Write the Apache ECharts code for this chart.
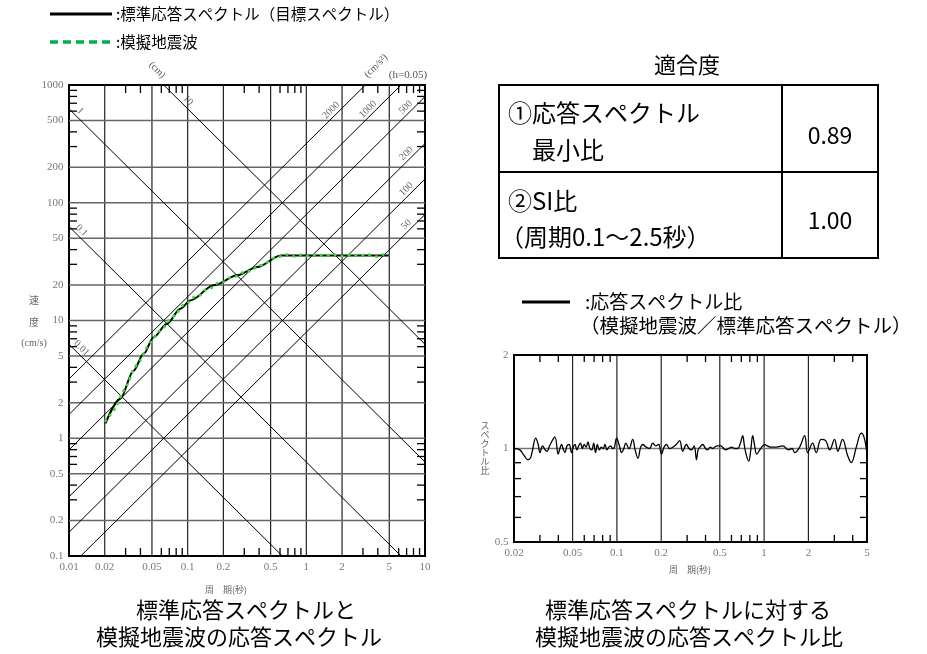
<!DOCTYPE html>
<html>
<head>
<meta charset="utf-8">
<script src="https://cdn.jsdelivr.net/npm/echarts@6/dist/echarts.min.js"></script>
<style>
html, body { margin: 0; padding: 0; background: #fff; }
#chart { width: 927px; height: 654px; }
</style>
</head>
<body>
<div id="chart"></div>
<script>
// target (standard) response spectrum, velocity cm/s vs period s
const targetPeriods = [0.0203, 0.027, 0.035, 0.0425, 0.0516, 0.067, 0.0867, 0.1054, 0.166, 0.262, 0.386, 0.608, 5.0]
const targetVel = [1.34, 2.16, 3.75, 5.21, 7.21, 9.39, 12.6, 14.8, 19.9, 24.2, 28.4, 35.7, 35.7]

// simulated wave spectrum (green)
const simPeriods = [0.02, 0.022, 0.025, 0.028, 0.031, 0.035, 0.04, 0.045, 0.05, 0.056, 0.063, 0.07, 0.08, 0.09, 0.1, 0.11, 0.125, 0.14, 0.16, 0.18, 0.2, 0.23, 0.26, 0.3, 0.34, 0.39, 0.45, 0.52, 0.6, 0.7, 0.8, 0.9, 1.0, 1.2, 1.4, 1.7, 2.0, 2.4, 2.8, 3.3, 3.9, 4.5, 5.0]
const simVel = [1.38, 1.55, 1.86, 2.40, 2.85, 3.85, 4.60, 5.85, 6.75, 7.95, 8.70, 10.1, 11.3, 13.3, 14.0, 15.6, 16.2, 18.2, 19.0, 20.9, 21.2, 23.3, 23.8, 26.0, 26.4, 28.9, 30.3, 33.5, 35.0, 36.4, 35.0, 36.2, 35.3, 36.0, 35.4, 36.3, 35.2, 36.1, 35.5, 36.3, 35.0, 36.4, 35.3]

// spectrum ratio (simulated / standard)
const ratioPeriods = [0.0200, 0.0219, 0.0234, 0.0249, 0.0258, 0.0265, 0.0281, 0.0292, 0.0300, 0.0313, 0.0325, 0.0336, 0.0346, 0.0356, 0.0379, 0.0399, 0.0410, 0.0421, 0.0433, 0.0444, 0.0458, 0.0474, 0.0492, 0.0505, 0.0519, 0.0535, 0.0550, 0.0566, 0.0582, 0.0600, 0.0618, 0.0636, 0.0655, 0.0675, 0.0695, 0.0716, 0.0737, 0.0760, 0.0783, 0.0806, 0.0830, 0.0855, 0.0880, 0.0907, 0.0934, 0.0962, 0.0995, 0.1040, 0.1076, 0.1115, 0.1150, 0.1210, 0.1280, 0.1330, 0.1390, 0.1450, 0.1500, 0.1580, 0.1670, 0.1750, 0.1840, 0.1920, 0.2010, 0.2090, 0.2170, 0.2280, 0.2400, 0.2530, 0.2670, 0.2800, 0.2970, 0.3090, 0.3210, 0.3350, 0.3470, 0.3560, 0.3660, 0.3830, 0.4000, 0.4140, 0.4300, 0.4480, 0.4770, 0.5070, 0.5480, 0.5750, 0.6020, 0.6300, 0.6620, 0.6900, 0.7150, 0.7330, 0.7500, 0.7860, 0.8100, 0.8360, 0.8600, 0.8910, 0.9480, 1.0090, 1.0500, 1.1090, 1.2170, 1.3370, 1.4680, 1.5500, 1.6120, 1.7430, 1.8850, 1.9770, 2.1360, 2.2600, 2.4400, 2.6200, 2.7900, 3.0100, 3.1700, 3.4100, 3.6900, 3.9100, 4.2300, 4.5700, 4.7900, 5.0000]
const ratioValues = [1.00, 0.99, 0.95, 0.92, 0.93, 0.97, 1.08, 1.03, 0.97, 1.02, 0.99, 0.98, 1.01, 1.04, 1.09, 0.96, 1.00, 1.03, 0.99, 0.97, 1.02, 1.03, 0.97, 1.01, 1.03, 0.99, 1.02, 1.04, 1.00, 1.03, 1.01, 1.05, 1.00, 0.99, 1.04, 0.97, 1.03, 0.99, 1.01, 1.00, 1.03, 0.99, 1.01, 1.02, 1.00, 1.01, 1.08, 1.02, 0.97, 1.00, 1.04, 1.00, 1.07, 0.99, 0.93, 1.01, 1.03, 1.01, 1.00, 1.04, 1.02, 1.03, 0.96, 1.01, 1.03, 1.00, 1.01, 1.03, 1.06, 0.98, 1.03, 1.00, 0.99, 1.02, 0.92, 0.99, 1.01, 1.03, 1.00, 0.99, 1.01, 1.00, 1.02, 1.02, 0.99, 1.00, 1.01, 1.00, 1.00, 1.04, 1.10, 1.03, 0.97, 0.91, 0.98, 1.10, 1.03, 0.96, 1.00, 1.03, 1.02, 1.01, 1.01, 1.02, 0.99, 1.00, 0.97, 1.01, 1.10, 0.97, 1.04, 0.97, 1.07, 1.06, 0.99, 1.07, 0.98, 1.07, 0.95, 0.90, 1.01, 1.12, 1.08, 0.96]

// tripartite lines: displacement (cm) and acceleration (cm/s2)
const dispLines = [0.01, 0.1, 1, 10]
const accLines = [50, 100, 200, 500, 1000, 2000]

// tick labels
const leftXTicks = [0.01, 0.02, 0.05, 0.1, 0.2, 0.5, 1, 2, 5, 10]
const leftYTicks = [0.1, 0.2, 0.5, 1, 2, 5, 10, 20, 50, 100, 200, 500, 1000]
const rightXTicks = [0.02, 0.05, 0.1, 0.2, 0.5, 1, 2, 5]
const rightYTicks = [0.5, 1, 2]
const minorMult = [3, 4, 6, 7, 8, 9]

// fit table
const fitRowLine1 = ['①応答スペクトル', '②SI比']
const fitRowLine2 = ['最小比', '（周期0.1～2.5秒）']
const fitValues = ['0.89', '1.00']

const JP = '"Noto Sans CJK JP", "Noto Sans", sans-serif'
const SERIF = '"Liberation Serif", "DejaVu Serif", serif'

const LX = [0.01, 10], LY = [0.1, 1000]
const RX = [0.02, 5], RY = [0.5, 2]

function minors(lo, hi) {
  const out = []
  for (let d = Math.floor(Math.log10(lo)) - 1; d <= Math.ceil(Math.log10(hi)); d++) {
    minorMult.forEach(m => {
      const v = +(m * Math.pow(10, d)).toPrecision(3)
      if (v > lo && v < hi) out.push(v)
    })
  }
  return out
}

function hiddenAxis(gi, range) {
  return {
    gridIndex: gi, type: 'log', logBase: 10, min: range[0], max: range[1],
    axisLine: { show: false }, axisTick: { show: false }, axisLabel: { show: false },
    splitLine: { show: false }, minorTick: { show: false }, minorSplitLine: { show: false }
  }
}

// grid lines: kind 0 = vertical, 1 = horizontal
function gridLineSeries(idx, xr, yr, xs, ys, vStyle, hStyle) {
  const data = xs.map(v => [v, yr[0], 0]).concat(ys.map(v => [xr[0], v, 1]))
  return {
    type: 'custom', xAxisIndex: idx, yAxisIndex: idx, silent: true, z: 1,
    dimensions: ['x', 'y', 'k'], encode: { x: 0, y: 1 },
    data,
    renderItem(params, api) {
      let a, b
      if (api.value(2) === 0) {
        a = api.coord([api.value(0), yr[0]]); b = api.coord([api.value(0), yr[1]])
      } else {
        a = api.coord([xr[0], api.value(1)]); b = api.coord([xr[1], api.value(1)])
      }
      return { type: 'line', shape: { x1: a[0], y1: a[1], x2: b[0], y2: b[1] }, style: api.value(2) === 0 ? vStyle : hStyle }
    }
  }
}

// inside ticks on all four sides
function tickSeries(idx, xr, yr, xs, ys, len) {
  const data = xs.map(v => [v, yr[0], 0]).concat(ys.map(v => [xr[0], v, 1]))
  const s = { stroke: '#000', lineWidth: 1.3 }
  return {
    type: 'custom', xAxisIndex: idx, yAxisIndex: idx, silent: true, z: 6,
    dimensions: ['x', 'y', 'k'], encode: { x: 0, y: 1 },
    data,
    renderItem(params, api) {
      if (api.value(2) === 0) {
        const b = api.coord([api.value(0), yr[0]]), t = api.coord([api.value(0), yr[1]])
        return { type: 'group', children: [
          { type: 'line', shape: { x1: b[0], y1: b[1], x2: b[0], y2: b[1] - len }, style: s },
          { type: 'line', shape: { x1: t[0], y1: t[1], x2: t[0], y2: t[1] + len }, style: s }
        ] }
      }
      const l = api.coord([xr[0], api.value(1)]), r = api.coord([xr[1], api.value(1)])
      return { type: 'group', children: [
        { type: 'line', shape: { x1: l[0], y1: l[1], x2: l[0] + len, y2: l[1] }, style: s },
        { type: 'line', shape: { x1: r[0], y1: r[1], x2: r[0] - len, y2: r[1] }, style: s }
      ] }
    }
  }
}

function labelSeries(idx, pts, position, distance, extra) {
  return {
    type: 'scatter', xAxisIndex: idx, yAxisIndex: idx, silent: true, clip: false, z: 8,
    symbolSize: 1, itemStyle: { color: 'rgba(0,0,0,0)' },
    data: pts,
    label: Object.assign({
      show: true, position, distance, formatter: p => p.data[2],
      fontFamily: SERIF, fontSize: 11, color: '#555'
    }, extra || {})
  }
}

const TWO_PI = 2 * Math.PI
const dispV = (D, T) => TWO_PI * D / T
const accV = (A, T) => A * T / TWO_PI

// where the small value tags sit on each diagonal (period)
const dispLabelAt = { 0.01: 0.0108, 0.1: 0.0108, 1: 0.0105, 10: 0.085 }
const accLabelAt = { 50: 8.2, 100: 8.2, 200: 8.2, 500: 8.1, 1000: 3.9, 2000: 1.91 }

const series = []

// left chart grid
series.push(gridLineSeries(0, LX, LY,
  leftXTicks.slice(1, -1), leftYTicks.slice(1, -1),
  { stroke: '#222', lineWidth: 1.2 }, { stroke: '#666', lineWidth: 1.6 }))
series.push(tickSeries(0, LX, LY, minors(LX[0], LX[1]), minors(LY[0], LY[1]), 8))

// diagonals
dispLines.forEach(D => series.push({
  type: 'line', xAxisIndex: 0, yAxisIndex: 0, silent: true, symbol: 'none', z: 2,
  data: [[0.001, dispV(D, 0.001)], [100, dispV(D, 100)]],
  lineStyle: { color: '#000', width: 1 }
}))
accLines.forEach(A => series.push({
  type: 'line', xAxisIndex: 0, yAxisIndex: 0, silent: true, symbol: 'none', z: 2,
  data: [[0.001, accV(A, 0.001)], [100, accV(A, 100)]],
  lineStyle: { color: '#000', width: 1 }
}))
series.push(labelSeries(0, dispLines.map(D => [dispLabelAt[D], dispV(D, dispLabelAt[D]), String(D)]),
  'inside', 0, { offset: [6, -6], rotate: -45, fontSize: 10, color: '#444' }))
series.push(labelSeries(0, accLines.map(A => [accLabelAt[A], accV(A, accLabelAt[A]), String(A)]),
  'inside', 0, { offset: [-6, -6], rotate: 45, fontSize: 10, color: '#444' }))

// spectra
series.push({
  type: 'line', xAxisIndex: 0, yAxisIndex: 0, symbol: 'none', z: 4, smooth: 0.3, smoothMonotone: 'x',
  data: targetPeriods.map((t, i) => [t, targetVel[i]]),
  lineStyle: { color: '#000', width: 2 }
})
series.push({
  type: 'line', xAxisIndex: 0, yAxisIndex: 0, symbol: 'none', z: 5, smooth: 0.3,
  data: simPeriods.map((t, i) => [t, simVel[i]]),
  lineStyle: { color: '#2ee02e', width: 2.6, type: [3, 4] }
})

// left axis labels
series.push(labelSeries(0, leftXTicks.map(v => [v, LY[0], String(v)]), 'bottom', 5))
series.push(labelSeries(0, leftYTicks.map(v => [LX[0], v, String(v)]), 'left', 5))

// right chart
series.push(gridLineSeries(1, RX, RY,
  rightXTicks.slice(1, -1), [1],
  { stroke: '#222', lineWidth: 1.2 }, { stroke: '#777', lineWidth: 1.6 }))
series.push(tickSeries(1, RX, RY, minors(RX[0], RX[1]), minors(RY[0], RY[1]).filter(v => v < 1), 7))
series.push({
  type: 'line', xAxisIndex: 1, yAxisIndex: 1, symbol: 'none', z: 4, smooth: 0.4,
  data: ratioPeriods.map((t, i) => [t, ratioValues[i]]),
  lineStyle: { color: '#000', width: 1.3 }
})
series.push(labelSeries(1, rightXTicks.map(v => [v, RY[0], String(v)]), 'bottom', 5))
series.push(labelSeries(1, rightYTicks.map(v => [RX[0], v, String(v)]), 'left', 5))

function txt(x, y, text, font, extra) {
  return Object.assign({
    type: 'text', x, y, silent: true,
    style: Object.assign({ text, font, fill: '#000', align: 'left', verticalAlign: 'middle' }, (extra && extra.style) || {})
  }, extra ? { rotation: extra.rotation || 0 } : {})
}

const graphics = [
  // left legend
  { type: 'line', shape: { x1: 50, y1: 14, x2: 112, y2: 14 }, style: { stroke: '#000', lineWidth: 3 } },
  txt(116, 14, ':標準応答スペクトル（目標スペクトル）', '15.5px ' + JP),
  { type: 'line', shape: { x1: 50, y1: 42, x2: 112, y2: 42 }, style: { stroke: '#00b050', lineWidth: 3.5, lineDash: [8, 5] } },
  txt(116, 42, ':模擬地震波', '15.5px ' + JP),
  // left chart annotations
  txt(157, 70, '(cm)', '10px ' + SERIF, { rotation: -Math.PI / 4, style: { fill: '#555', align: 'center' } }),
  txt(376, 66, '(cm/s²)', '10px ' + SERIF, { rotation: Math.PI / 4, style: { fill: '#555', align: 'center' } }),
  txt(408, 75, '(h=0.05)', '11px ' + SERIF, { style: { fill: '#555', align: 'center' } }),
  txt(34, 300, '速', '10px ' + JP, { style: { fill: '#666', align: 'center' } }),
  txt(34, 322, '度', '10px ' + JP, { style: { fill: '#666', align: 'center' } }),
  txt(34, 343, '(cm/s)', '10px ' + SERIF, { style: { fill: '#666', align: 'center' } }),
  txt(226, 590, '周　期(秒)', '9px ' + JP, { style: { fill: '#666', align: 'center' } }),
  // fit table
  txt(687, 65, '適合度', '22px ' + JP, { style: { align: 'center' } }),
  { type: 'rect', shape: { x: 499, y: 85, width: 379, height: 173 }, style: { fill: 'none', stroke: '#000', lineWidth: 2 } },
  { type: 'line', shape: { x1: 499, y1: 172, x2: 878, y2: 172 }, style: { stroke: '#000', lineWidth: 2 } },
  { type: 'line', shape: { x1: 782, y1: 85, x2: 782, y2: 258 }, style: { stroke: '#000', lineWidth: 2 } },
  txt(508, 113, fitRowLine1[0], '24px ' + JP),
  txt(532, 150, fitRowLine2[0], '24px ' + JP),
  txt(830, 135, fitValues[0], '23px ' + JP, { style: { align: 'center' } }),
  txt(508, 201, fitRowLine1[1], '24px ' + JP),
  txt(500, 237, fitRowLine2[1], '24px ' + JP),
  txt(830, 220, fitValues[1], '23px ' + JP, { style: { align: 'center' } }),
  // right legend
  { type: 'line', shape: { x1: 522, y1: 302, x2: 570, y2: 302 }, style: { stroke: '#000', lineWidth: 3 } },
  txt(585, 302, ':応答スペクトル比', '19px ' + JP),
  txt(580, 326, '（模擬地震波／標準応答スペクトル）', '19.5px ' + JP),
  // right chart names
  txt(485, 448, 'ス\nペ\nク\nト\nル\n比', '9px ' + JP, { style: { fill: '#666', align: 'center', lineHeight: 9 } }),
  txt(690, 570, '周　期(秒)', '9px ' + JP, { style: { fill: '#666', align: 'center' } }),
  // captions
  txt(246, 610, '標準応答スペクトルと', '22px ' + JP, { style: { align: 'center' } }),
  txt(239, 637, '模擬地震波の応答スペクトル', '22px ' + JP, { style: { align: 'center' } }),
  txt(688, 610, '標準応答スペクトルに対する', '22px ' + JP, { style: { align: 'center' } }),
  txt(689, 637, '模擬地震波の応答スペクトル比', '22px ' + JP, { style: { align: 'center' } })
]

const chart = echarts.init(document.getElementById('chart'), null, { renderer: 'canvas' })
chart.setOption({
  animation: false,
  backgroundColor: '#fff',
  grid: [
    { left: 69, top: 85, width: 356, height: 471, show: true, borderColor: '#000', borderWidth: 2, backgroundColor: 'transparent', containLabel: false },
    { left: 514, top: 355, width: 353, height: 187, show: true, borderColor: '#000', borderWidth: 2, backgroundColor: 'transparent', containLabel: false }
  ],
  xAxis: [hiddenAxis(0, LX), hiddenAxis(1, RX)],
  yAxis: [hiddenAxis(0, LY), hiddenAxis(1, RY)],
  series,
  graphic: { elements: graphics }
})
</script>
</body>
</html>
